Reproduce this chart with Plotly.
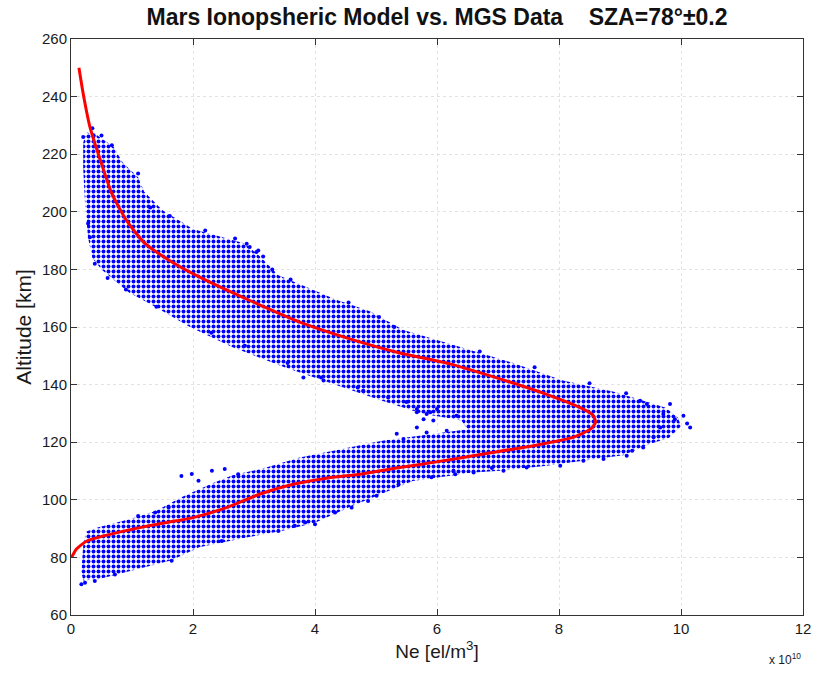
import plotly.graph_objects as go

# ---- data (Ne in units of 1e10 el/m^3, altitude in km) ----
# Model profile (red curve)
model_ne = [0.13, 0.20, 0.31, 0.48, 0.67, 0.91, 1.19, 1.62, 2.11, 2.93, 3.75, 4.57,
            5.39, 6.21, 7.03, 7.85, 8.34, 8.55, 8.60, 8.52, 8.23, 7.58, 6.76, 5.94, 5.39,
            4.74, 4.19, 3.64, 3.10, 2.55, 2.00, 1.73, 1.19, 0.64, 0.26, 0.09, 0.01]
model_alt = [250.0, 241.0, 229.5, 218.0, 206.3, 197.0, 189.5, 183.0, 177.3, 169.2, 161.7, 155.9,
             151.0, 147.2, 142.0, 136.2, 132.1, 129.5, 127.0, 124.6, 121.7, 118.8, 115.9, 113.0, 111.2,
             108.9, 107.5, 105.4, 102.0, 97.3, 93.8, 92.7, 90.6, 88.0, 85.7, 82.9, 80.0]

# Envelope of the dense MGS data cloud
cloud_ne = [0.20, 0.25, 0.40, 0.70, 0.85, 1.10, 1.20, 1.50, 2.00, 2.50, 2.85, 3.10, 3.40, 3.85,
            4.35, 4.90, 5.45, 6.15, 7.25, 8.05, 8.90, 9.45, 9.75, 9.95, 10.0, 9.80, 9.50, 9.05,
            8.40, 7.80, 7.10, 6.60, 5.60, 5.10, 4.55, 4.00, 3.45, 2.90, 2.10, 1.65, 1.00, 0.45,
            0.20, 0.17, 0.20, 0.25, 0.45, 1.00, 1.40, 1.80, 2.35, 2.65, 3.20, 3.75, 4.30, 5.10,
            5.80, 6.50, 6.40, 5.75, 5.10, 4.30, 3.50, 2.65, 1.95, 1.30, 0.95, 0.50, 0.35, 0.28,
            0.23, 0.20]
cloud_alt = [224.0, 227.5, 227.0, 222.5, 217.0, 212.0, 207.0, 200.5, 194.0, 191.0, 189.0, 184.5,
             178.0, 174.0, 169.5, 165.5, 159.0, 154.5, 147.5, 141.5, 137.5, 134.0, 132.0, 128.5,
             125.5, 121.5, 119.5, 115.5, 113.5, 111.8, 110.2, 109.5, 106.5, 102.0, 97.3, 92.0,
             89.2, 87.0, 83.5, 79.0, 75.3, 72.4, 72.0, 75.0, 84.0, 89.0, 90.5, 93.5, 96.2, 100.8,
             106.0, 108.5, 111.2, 114.7, 117.0, 120.5, 122.5, 124.5, 127.5, 130.0, 134.4, 140.2,
             146.0, 153.0, 160.0, 168.0, 172.0, 180.0, 184.0, 191.0, 203.0, 215.0]

# Scattered individual measurements around the cloud edges
pts_ne = [0.20, 0.37, 0.67, 1.10, 0.35, 0.50, 2.69, 2.88, 2.93, 3.04, 3.15, 3.07,
          0.31, 0.39, 0.28, 3.81, 4.14, 4.79, 5.67, 5.83,
          5.67, 5.89, 5.78, 5.94, 5.34, 5.45, 6.16, 6.32, 5.67, 5.83,
          10.04, 10.15, 9.90, 9.71, 9.44, 9.33, 9.66, 9.55, 9.38, 9.11, 8.73, 8.40, 8.02,
          7.47, 7.09, 6.60, 6.27, 9.82, 10.10, 9.20,
          1.81, 1.98, 2.31, 2.52, 2.74, 2.09, 1.60, 1.38, 1.10,
          1.65, 2.47, 3.40, 3.67, 4.00, 3.84, 4.33, 4.60, 4.87, 5.01, 5.37, 5.91, 6.30,
          0.17, 0.23, 0.39, 0.72,
          1.30, 1.62, 2.20, 3.30, 3.60, 4.55, 5.05, 5.30, 6.70, 7.60, 8.50, 9.10,
          0.60, 0.90, 1.40, 2.30, 2.85, 3.55, 4.10, 4.70, 5.20, 5.50, 6.00, 6.90]
pts_alt = [226.0, 226.6, 223.1, 213.3, 229.0, 226.5, 190.7, 188.9, 187.8, 186.0, 184.5, 186.6,
           191.2, 182.0, 195.9, 142.5, 141.4, 137.9, 130.4, 129.8,
           131.5, 130.4, 128.0, 127.5, 122.9, 121.1, 124.0, 129.2, 125.1, 123.4,
           129.2, 125.1, 128.0, 129.8, 133.3, 134.4, 125.1, 121.7, 118.2, 115.3, 114.2, 113.6, 111.8,
           111.2, 110.1, 109.5, 110.1, 133.3, 126.5, 117.0,
           108.3, 109.0, 110.1, 110.7, 108.9, 106.6, 97.3, 95.6, 94.4,
           78.8, 85.7, 89.2, 91.0, 91.5, 92.1, 95.6, 97.3, 99.6, 101.4, 105.4, 107.8, 108.9,
           70.7, 71.2, 71.8, 74.1,
           201.5, 198.5, 193.5, 180.0, 176.5, 168.5, 163.5, 160.0, 151.5, 146.0, 140.5, 137.0,
           177.0, 173.0, 167.0, 158.0, 153.5, 147.5, 142.5, 139.0, 135.5, 134.0, 131.5, 111.0]

x_ticks = [0, 2, 4, 6, 8, 10, 12]
y_ticks = [60, 80, 100, 120, 140, 160, 180, 200, 220, 240, 260]

BLUE = "#0000ff"
RED = "#ff0000"
FONT = "Liberation Sans, Arial, sans-serif"

fig = go.Figure()

fig.add_trace(go.Scatter(
    x=cloud_ne, y=cloud_alt, mode="lines", fill="toself",
    line=dict(width=0, color="rgba(0,0,0,0)"),
    fillcolor="rgba(0,0,0,0)",
    fillpattern=dict(shape=".", fgcolor=BLUE, fgopacity=1, bgcolor="rgba(0,0,0,0)",
                     size=5, solidity=0.5, fillmode="overlay"),
    hoverinfo="skip", showlegend=False))

fig.add_trace(go.Scatter(
    x=pts_ne, y=pts_alt, mode="markers",
    marker=dict(size=4, color=BLUE, line=dict(width=0)),
    showlegend=False))

fig.add_trace(go.Scatter(
    x=model_ne, y=model_alt, mode="lines",
    line=dict(color=RED, width=3, shape="spline", smoothing=0.6),
    showlegend=False))

axis_common = dict(
    showline=True, linecolor="#333333", linewidth=1, mirror="ticks",
    ticks="inside", ticklen=6, tickcolor="#333333", tickwidth=1,
    showgrid=True, gridcolor="#e2e2e2", griddash="dot", gridwidth=1,
    zeroline=False, automargin=False,
    tickfont=dict(family=FONT, size=15, color="#1a1a1a"),
)

fig.update_layout(
    width=817, height=675,
    margin=dict(l=71, r=14, t=39, b=60),
    paper_bgcolor="white", plot_bgcolor="white",
    font=dict(family=FONT, color="#1a1a1a"),
    title=dict(text="<b>Mars Ionopsheric Model vs. MGS Data\u00a0\u00a0\u00a0\u00a0SZA=78\u00b0\u00b10.2</b>",
               x=0.5, xref="paper", y=1 - 17 / 675, yref="container",
               xanchor="center", yanchor="middle", automargin=False,
               font=dict(family=FONT, size=23, color="#111")),
    xaxis=dict(range=[0, 12], tickvals=x_ticks, ticktext=[str(v) for v in x_ticks],
               title=dict(text="Ne [el/m<sup>3</sup>]", standoff=8,
                          font=dict(family=FONT, size=19, color="#1a1a1a")),
               **axis_common),
    yaxis=dict(range=[60, 260], tickvals=y_ticks, ticktext=[str(v) for v in y_ticks],
               title=dict(text="Altitude [km]", standoff=4,
                          font=dict(family=FONT, size=21, color="#1a1a1a")),
               **axis_common),
    annotations=[dict(text="x 10<sup>10</sup>", xref="paper", yref="paper",
                      x=1.0, y=0, xanchor="right", yanchor="middle", yshift=-44,
                      showarrow=False, font=dict(family=FONT, size=12, color="#1a1a1a"))],
)

fig.write_html("out.html", config={"displayModeBar": False},
               post_script="document.body.style.margin='0';document.body.style.overflow='hidden';")
